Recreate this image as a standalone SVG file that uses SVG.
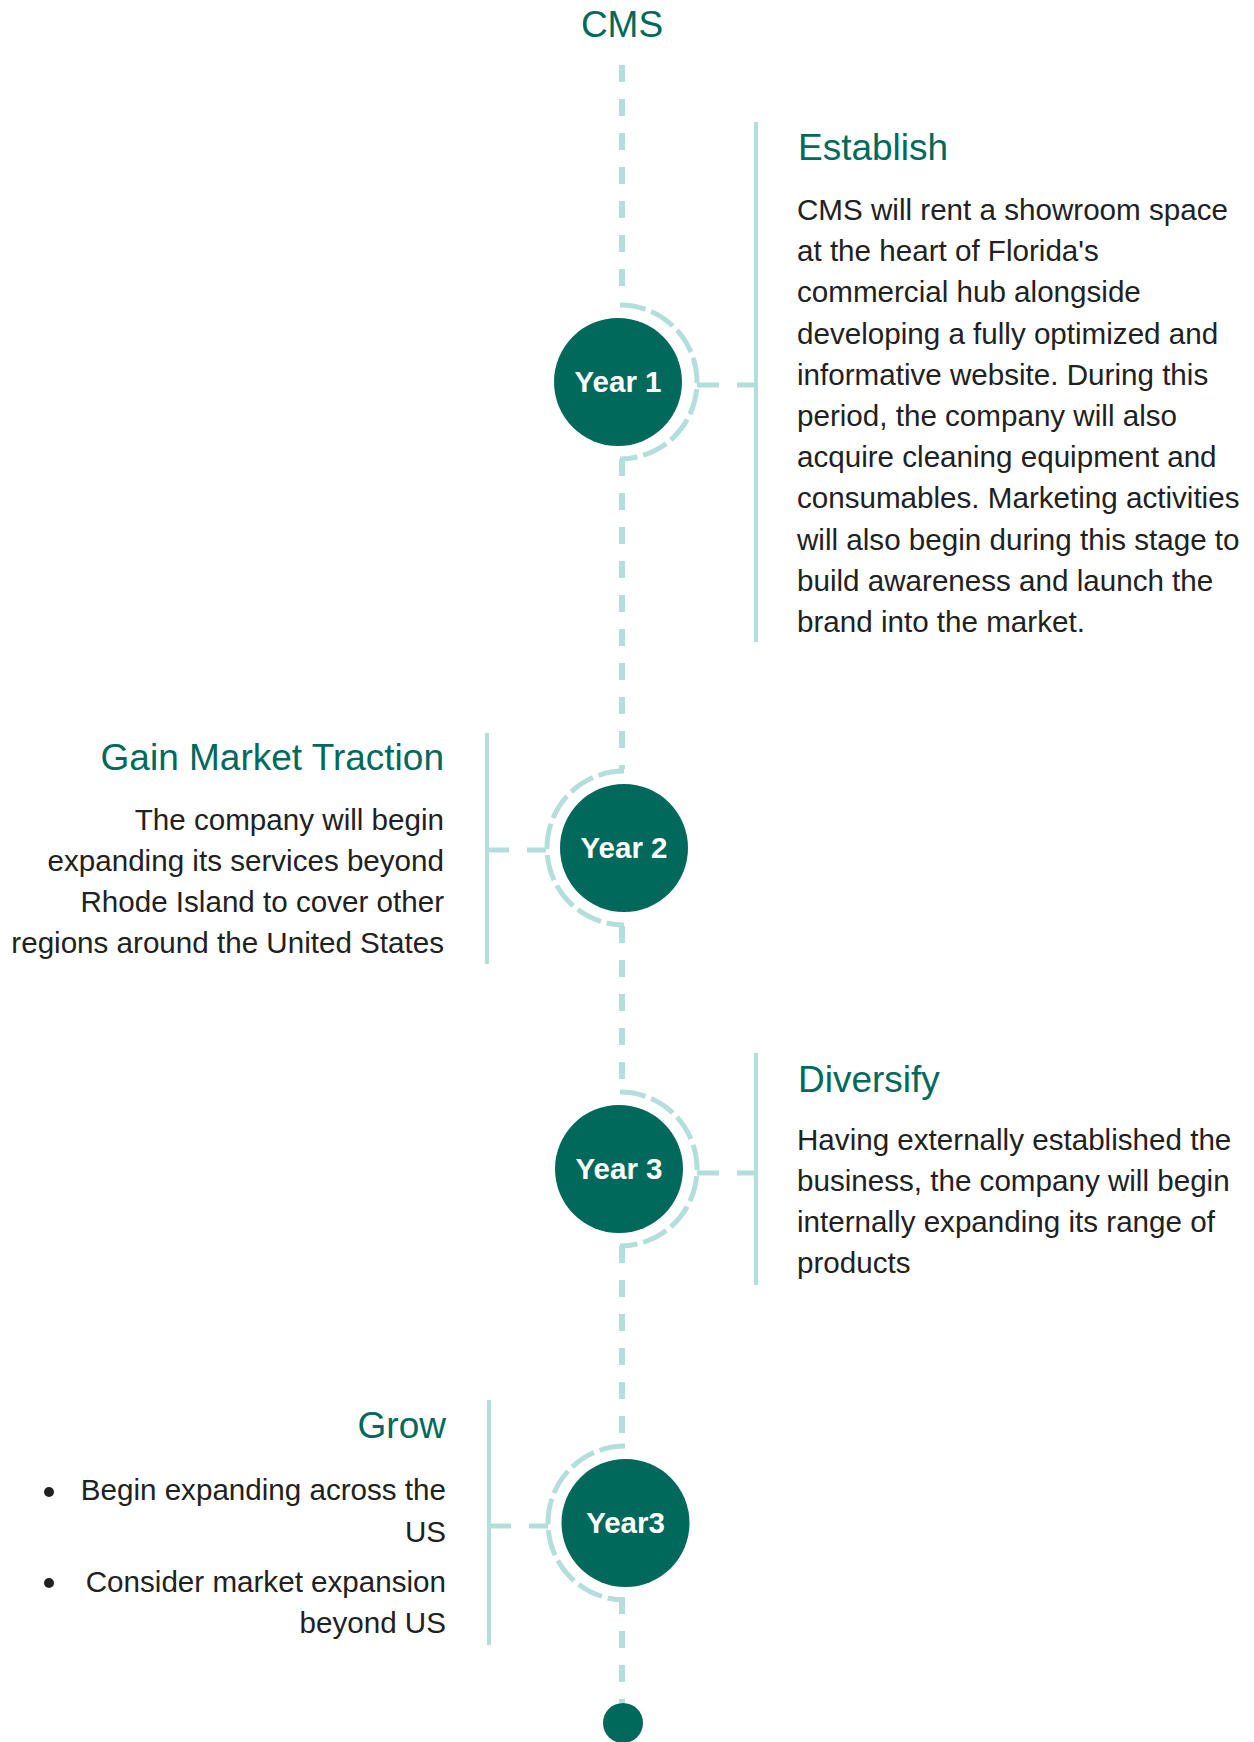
<svg xmlns="http://www.w3.org/2000/svg" width="1254" height="1742" viewBox="0 0 1254 1742">
  <style>
    .spine { fill: none; stroke: #b2dfdb; stroke-width: 6; stroke-dasharray: 17 17; }
    .ring { fill: none; stroke: #b2dfdb; stroke-width: 5; stroke-dasharray: 26 6; }
    .link { fill: none; stroke: #b2dfdb; stroke-width: 5; stroke-dasharray: 22 18; }
    .rail { fill: none; stroke: #b2dfdb; stroke-width: 4; }
    .disc { fill: #00695c; }
    .year { fill: #ffffff; font-family: "Liberation Sans", Arial, sans-serif; font-weight: bold; font-size: 29.5px; text-anchor: middle; }
    .title { fill: #00695c; font-family: "Liberation Sans", Arial, sans-serif; font-size: 37px; }
    .body { fill: #212121; font-family: "Liberation Sans", Arial, sans-serif; font-size: 29.6px; }
    .end { text-anchor: end; }
  </style>

  <rect width="1254" height="1742" fill="#ffffff"/>

  <text class="title" x="622" y="37" text-anchor="middle">CMS</text>

  <!-- dashed spine and links -->
  <g id="connectors">
    <path class="spine" d="M622 65 V303"/>
    <path class="spine" d="M622 459 V769"/>
    <path class="spine" d="M622 926 V1090"/>
    <path class="spine" d="M622 1246 V1446"/>
    <path class="spine" d="M622 1597 V1703"/>
    <path class="link" d="M697 385 H756"/>
    <path class="link" d="M487 850 H546"/>
    <path class="link" d="M697 1173 H756"/>
    <path class="link" d="M489 1526 H548"/>
  </g>

  <!-- Year 1 -->
  <g id="year1">
    <path class="ring" d="M620 305 A77 77 0 0 1 620 459"/>
    <circle class="disc" cx="618" cy="382" r="64"/>
    <text class="year" x="618" y="392">Year 1</text>
  </g>

  <!-- Year 2 -->
  <g id="year2">
    <path class="ring" d="M624 771 A77 77 0 0 0 624 925"/>
    <circle class="disc" cx="624" cy="848" r="64"/>
    <text class="year" x="624" y="858">Year 2</text>
  </g>

  <!-- Year 3 -->
  <g id="year3">
    <path class="ring" d="M620 1092 A77 77 0 0 1 620 1246"/>
    <circle class="disc" cx="619" cy="1169" r="64"/>
    <text class="year" x="619" y="1179">Year 3</text>
  </g>

  <!-- Year3 (fourth stage) -->
  <g id="year4">
    <path class="ring" d="M625 1446 A77 77 0 0 0 625 1600"/>
    <circle class="disc" cx="625.500" cy="1523" r="64"/>
    <text class="year" x="625.500" y="1533">Year3</text>
  </g>

  <!-- timeline end -->
  <g id="end-dot">
    <circle class="disc" cx="623" cy="1723" r="20"/>
  </g>

  <!-- Establish -->
  <g id="establish">
    <path class="rail" d="M756 122 V642"/>
    <text class="title" x="798" y="160">Establish</text>
    <text class="body" x="797" y="220">CMS will rent a showroom space</text>
    <text class="body" x="797" y="261.200">at the heart of Florida's</text>
    <text class="body" x="797" y="302.400">commercial hub alongside</text>
    <text class="body" x="797" y="343.600">developing a fully optimized and</text>
    <text class="body" x="797" y="384.800">informative website. During this</text>
    <text class="body" x="797" y="426">period, the company will also</text>
    <text class="body" x="797" y="467.200">acquire cleaning equipment and</text>
    <text class="body" x="797" y="508.400">consumables. Marketing activities</text>
    <text class="body" x="797" y="549.600">will also begin during this stage to</text>
    <text class="body" x="797" y="590.800">build awareness and launch the</text>
    <text class="body" x="797" y="632">brand into the market.</text>
  </g>

  <!-- Gain Market Traction -->
  <g id="traction">
    <path class="rail" d="M487 733 V964"/>
    <text class="title end" x="444" y="770">Gain Market Traction</text>
    <text class="body end" x="444" y="830">The company will begin</text>
    <text class="body end" x="444" y="871">expanding its services beyond</text>
    <text class="body end" x="444" y="912">Rhode Island to cover other</text>
    <text class="body end" x="444" y="953">regions around the United States</text>
  </g>

  <!-- Diversify -->
  <g id="diversify">
    <path class="rail" d="M756 1053 V1285"/>
    <text class="title" x="798" y="1092">Diversify</text>
    <text class="body" x="797" y="1150">Having externally established the</text>
    <text class="body" x="797" y="1191">business, the company will begin</text>
    <text class="body" x="797" y="1232">internally expanding its range of</text>
    <text class="body" x="797" y="1273">products</text>
  </g>

  <!-- Grow -->
  <g id="grow">
    <path class="rail" d="M489 1400 V1645"/>
    <text class="title end" x="446" y="1438">Grow</text>
    <circle cx="49" cy="1492" r="5" fill="#212121"/>
    <circle cx="49" cy="1583" r="5" fill="#212121"/>
    <text class="body end" x="446" y="1500">Begin expanding across the</text>
    <text class="body end" x="446" y="1542">US</text>
    <text class="body end" x="446" y="1592">Consider market expansion</text>
    <text class="body end" x="446" y="1633">beyond US</text>
  </g>
</svg>
